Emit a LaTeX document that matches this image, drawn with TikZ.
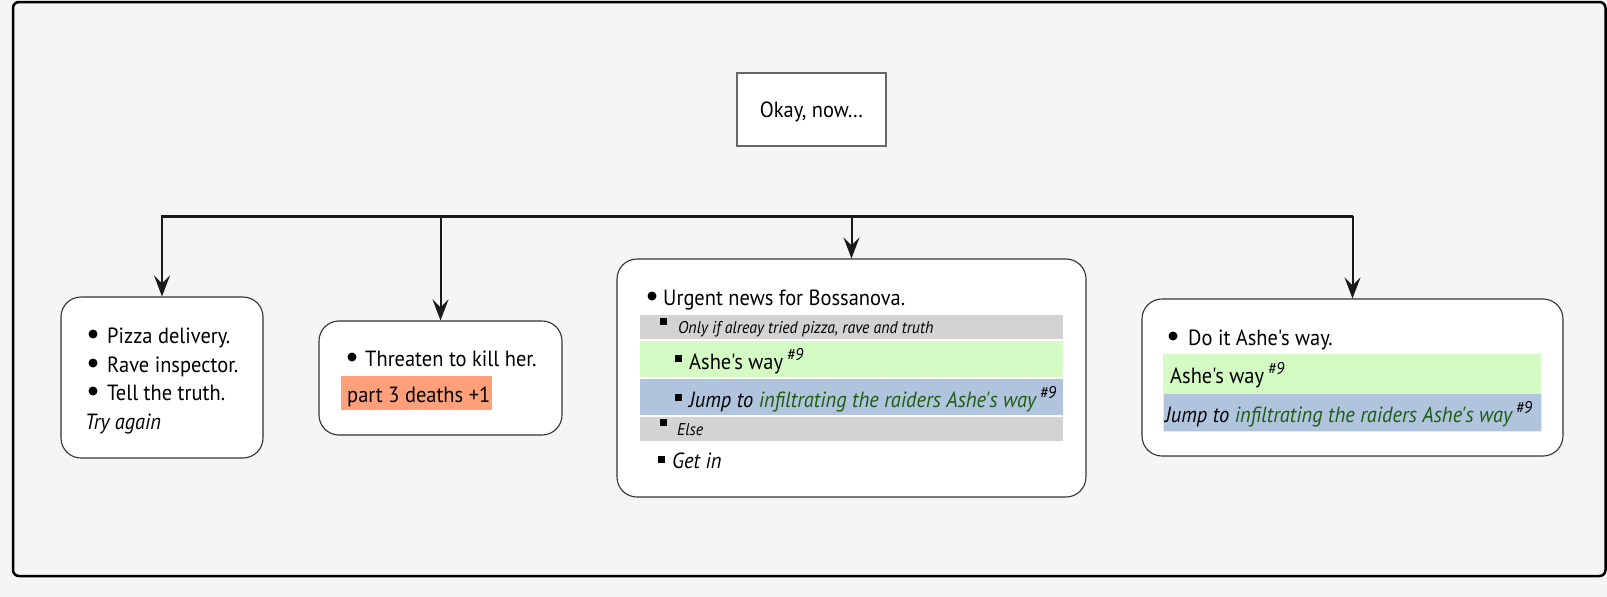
\documentclass[tikz,border=0pt]{standalone}
\usepackage{fontspec}
\setmainfont{PT Sans}[Ligatures=TeXOff, FakeStretch=0.93]
\usetikzlibrary{arrows.meta}
\definecolor{bggray}{HTML}{F5F5F5}
\definecolor{bandgray}{HTML}{D3D3D3}
\definecolor{bandgreen}{HTML}{D5FBC4}
\definecolor{bandblue}{HTML}{B0C4DE}
\definecolor{salmonband}{HTML}{FFA07A}
\definecolor{jumpgreen}{HTML}{1E5C12}
\definecolor{boxline}{HTML}{333333}
\newcommand\hashnine{\,\raisebox{9pt}{\fontsize{17}{17}\selectfont\itshape\#9}}
\tikzset{
  box/.style={draw=boxline, line width=1.1pt, fill=white, rounded corners=20pt, inner sep=0pt},
  okbox/.style={draw=black!60, line width=1.1pt, fill=white, inner sep=0pt, minimum width=149pt, minimum height=73pt},
  txt/.style={anchor=base west, inner sep=0pt, font=\fontsize{22}{26}\selectfont},
  small/.style={anchor=base west, inner sep=0pt, font=\fontsize{17}{20}\selectfont\itshape},
  rbul/.style={circle, fill=black, inner sep=0pt, minimum size=9pt},
  sbul/.style={rectangle, fill=black, inner sep=0pt, minimum size=7pt},
  conn/.style={draw=black!90, line width=2pt, -{Stealth[length=21pt,width=16pt,inset=8pt]}},
  bar/.style={draw=black!90, line width=3pt}
}
\begin{document}
\begin{tikzpicture}[x=1pt,y=-1pt]
\useasboundingbox (0,0) rectangle (1607,597);
\fill[bggray] (0,0) rectangle (1607,597);
\draw[black, line width=2.5pt, rounded corners=6pt] (13,2) rectangle (1605.5,576);

% top node
\node[okbox] (ok) at (811.5,109.5) {};
\node[txt, anchor=base] (oktxt) at (811.5,117) {Okay, now…};

% boxes
\node[box, minimum width=202pt, minimum height=161pt] (b1) at (162,377.5) {};
\node[box, minimum width=243pt, minimum height=114pt] (b2) at (440.5,378) {};
\node[box, minimum width=469pt, minimum height=238pt] (b3) at (851.5,378) {};
\node[box, minimum width=421pt, minimum height=157pt] (b4) at (1352.5,377.5) {};

% bar and connectors
\coordinate (barL) at (162,216);
\coordinate (barR) at (1352,216);
\coordinate (c1) at (162,216);
\coordinate (c2) at (440.5,216);
\coordinate (c3) at (851.5,216);
\coordinate (c4) at (1352.5,216);
\draw[bar] ([xshift=-1pt]barL) -- ([xshift=1pt]barR);
\draw[conn] (c1) -- (b1.north);
\draw[conn] (c2) -- (b2.north);
\draw[conn] (c3) -- (b3.north);
\draw[conn] (c4) -- (b4.north);

% box 1
\node[rbul] (b1u1) at (93,334) {};
\node[txt] (b1t1) at (107,343) {Pizza delivery.};
\node[rbul] (b1u2) at (93,363) {};
\node[txt] (b1t2) at (107,372) {Rave inspector.};
\node[rbul] (b1u3) at (93,391) {};
\node[txt] (b1t3) at (107,400) {Tell the truth.};
\node[txt, font=\fontsize{22}{26}\selectfont\itshape] (b1t4) at (85,429) {Try again};

% box 2
\node[rbul] (b2u1) at (352,357) {};
\node[txt] (b2t1) at (365,366) {Threaten to kill her.};
\fill[salmonband] (341,376) rectangle (492,410);
\node[txt] (b2t2) at (347,402) {part 3 deaths +1};

% box 3
\node[rbul] (b3u1) at (652,296) {};
\node[txt] (b3t1) at (663,305) {Urgent news for Bossanova.};
\fill[bandgray] (640,315) rectangle (1063,339);
\node[sbul] (b3s1) at (663,321) {};
\node[small] (b3t2) at (678,333) {Only if alreay tried pizza, rave and truth};
\fill[bandgreen] (640,341) rectangle (1063,377);
\node[sbul] (b3s2) at (678,358) {};
\node[txt] (b3t3) at (689,369) {Ashe's way\hashnine};
\fill[bandblue] (640,379) rectangle (1063,415);
\node[sbul] (b3s3) at (678,397) {};
\node[txt] (b3t4) at (689,407) {\itshape Jump to \textcolor{jumpgreen}{infiltrating the raiders Ashe's way}\hashnine};
\fill[bandgray] (640,417) rectangle (1063,441);
\node[sbul] (b3s4) at (663,422) {};
\node[small] (b3t5) at (677,435) {Else};
\node[sbul] (b3s5) at (661,459) {};
\node[txt, font=\fontsize{22}{26}\selectfont\itshape] (b3t6) at (672,468) {Get in};

% box 4
\node[rbul] (b4u1) at (1173,336) {};
\node[txt] (b4t1) at (1188,345) {Do it Ashe's way.};
\fill[bandgreen] (1163,354) rectangle (1541,393);
\node[txt] (b4t2) at (1170,383) {Ashe's way\hashnine};
\filldraw[fill=bandblue, draw=bandgreen, line width=1pt] (1163,393) rectangle (1541,431);
\node[txt] (b4t3) at (1165,422) {\itshape Jump to \textcolor{jumpgreen}{infiltrating the raiders Ashe's way}\hashnine};
\end{tikzpicture}
\end{document}
